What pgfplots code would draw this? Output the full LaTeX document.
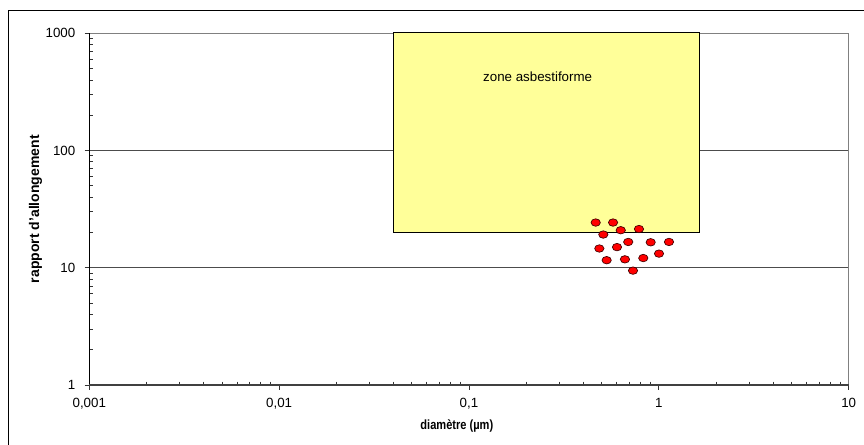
\documentclass[border=0pt]{standalone}
\usepackage{pgfplots}
\pgfplotsset{compat=1.18}
\usepackage{fontspec}
\setmainfont{Liberation Sans}
\definecolor{zone}{HTML}{FFFF99}
\definecolor{dotred}{HTML}{FF0000}
\pgfplotstableread{
x y
0.465 24.3
0.574 24.3
0.630 20.9
0.786 21.4
0.510 19.2
0.486 14.6
0.602 15.0
0.690 16.6
0.906 16.5
1.131 16.6
0.531 11.6
0.663 11.8
0.828 12.1
1.002 13.2
0.731 9.45
}\fibres
\begin{document}
\begin{tikzpicture}
\useasboundingbox (0,0) rectangle (648pt,-333.75pt);
\draw[black, line width=0.8pt] (6.2pt,-7.8pt) rectangle (670pt,-350pt);
\begin{axis}[
  at={(66.97pt,-288.75pt)}, anchor=south west,
  scale only axis, width=569.55pt, height=263.8pt,
  xmode=log, ymode=log,
  xmin=0.001, xmax=10, ymin=1, ymax=1000,
  clip=false,
  axis line style={black!50, line width=0.8pt},
  xtick={0.001,0.01,0.1,1,10},
  xticklabels={0{,}001,0{,}01,0{,}1,1,10},
  ytick={1,10,100,1000},
  yticklabels={1,10,100,1000},
  minor xtick={0.002,0.003,0.004,0.005,0.006,0.007,0.008,0.009,0.02,0.03,0.04,0.05,0.06,0.07,0.08,0.09,0.2,0.3,0.4,0.5,0.6,0.7,0.8,0.9,2,3,4,5,6,7,8,9},
  minor ytick={2,3,4,5,6,7,8,9,20,30,40,50,60,70,80,90,200,300,400,500,600,700,800,900},
  tick pos=left,
  ymajorgrids,
  major grid style={black!70, line width=0.7pt},
  tick align=outside,
  major tick length=3.5pt,
  minor tick length=-2.5pt,
  tick style={black!80, line width=0.6pt},
  ticklabel style={font=\fontsize{10}{12}\selectfont},
  xticklabel style={yshift=-3pt},
  yticklabel style={xshift=-3.5pt},
  xlabel={\scalebox{0.83}[1]{diamètre (µm)}},
  ylabel={rapport d'allongement},
  xlabel style={font=\bfseries\fontsize{10}{12}\selectfont, at={(axis description cs:0.484,-0.1166)}, anchor=center},
  ylabel style={font=\bfseries\fontsize{10.5}{12}\selectfont, at={(axis description cs:-0.0708,0.5)}, anchor=center},
]
\addplot[fill=zone, draw=black, line width=0.9pt, line join=miter]
  coordinates {(0.04,20) (1.64,20) (1.64,1020) (0.04,1020) (0.04,20)};
\node[font=\fontsize{10}{12}\selectfont] at (axis cs:0.23,425) {zone asbestiforme};
\addplot[only marks, mark=*, mark size=2.8pt,
  mark options={xscale=1.25, fill=dotred, draw=black!75!red, line width=0.5pt}]
  table {\fibres};
\draw[black, line width=0.8pt] (rel axis cs:0,0) -- (rel axis cs:0,1);
\draw[black!75, line width=0.8pt] (rel axis cs:0,0) -- (rel axis cs:1,0);
\end{axis}
\end{tikzpicture}
\end{document}
